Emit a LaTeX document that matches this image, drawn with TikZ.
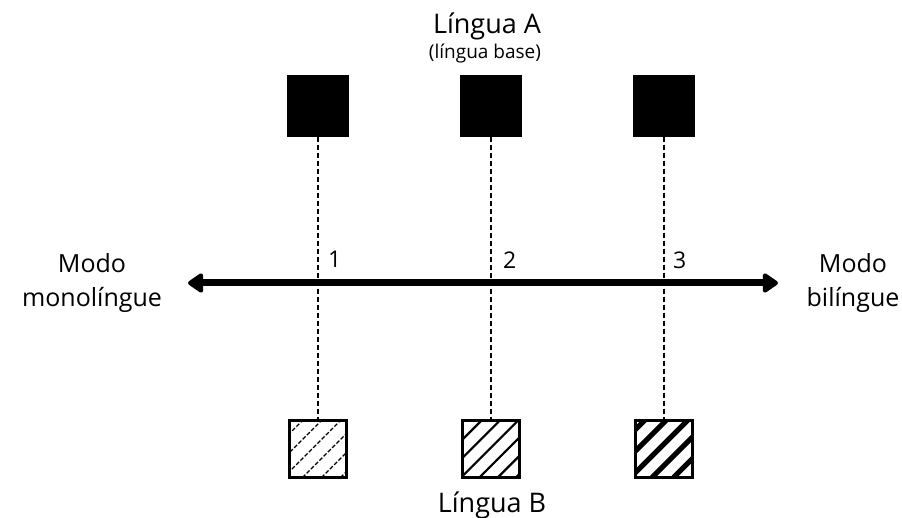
\documentclass[tikz,border=0pt]{standalone}
\usepackage{fontspec}
\setmainfont{Open Sans}
\usetikzlibrary{positioning, arrows.meta}
\tikzstyle{lingA} = [draw, fill=black, minimum size=61pt, inner sep=0pt]
\tikzstyle{guide} = [line width=2.2pt, dash pattern=on 5pt off 3pt]
\tikzstyle{num} = [inner sep=0pt, font=\fontsize{23}{27}\selectfont]
\tikzset{
  % #1 = line style, #2 = first offset, #3 = spacing
  lingB/.style n args={3}{draw, line width=3pt, minimum size=57pt, inner sep=0pt,
    path picture={
      \foreach \n in {0,...,6}
        \draw[#1] ([xshift=#2pt+\n*#3pt]path picture bounding box.south west) -- ++(90pt,90pt);
    }}
}

\begin{document}
\begin{tikzpicture}[x=1pt, y=-1pt]
    \useasboundingbox (0,0) rectangle (902,518);

    % quadrados de cima
    \node [lingA] (top1) at (318,106) {};
    \node [lingA] (top2) at (491,106) {};
    \node [lingA] (top3) at (664,106) {};

    % quadrados de baixo
    \node [lingB={line width=1.4pt, dash pattern=on 4pt off 2pt}{-44}{19}] (bot1) at (318,449) {};
    \node [lingB={line width=2.2pt}{-38}{18.3}] (bot2) at (491,449) {};
    \node [lingB={line width=5pt}{-48}{21.5}] (bot3) at (664,449) {};

    \draw [guide] (top1) -- (bot1);
    \draw [guide] (top2) -- (bot2);
    \draw [guide] (top3) -- (bot3);

    % eixo
    \coordinate (left) at (188,283);
    \coordinate (right) at (778,283);
    \draw [line width=7pt, {Triangle[length=17pt,width=22pt,round]}-{Triangle[length=17pt,width=22pt,round]}] (left) -- (right);

    \coordinate (x1) at (top1 |- left);
    \coordinate (x2) at (top2 |- left);
    \coordinate (x3) at (top3 |- left);
    \node [num, above right=15pt and 10pt of x1] (n1) {1};
    \node [num, above right=14pt and 12pt of x2] (n2) {2};
    \node [num, above right=14pt and 9pt of x3] (n3) {3};

    % textos
    \node [align=center, font=\fontsize{25}{34}\selectfont] (mono) at (92,283) {Modo\\monolíngue};
    \node [align=center, font=\fontsize{25}{34}\selectfont] (bili) at (853,283) {Modo\\bilíngue};
    \node [anchor=base, font=\fontsize{27}{32}\selectfont] (linA) at (487,34) {Língua A};
    \node [anchor=base, font=\fontsize{19}{22}\selectfont] (base) at (485,59) {(língua base)};
    \node [anchor=base, font=\fontsize{27}{32}\selectfont] (linB) at (492,512) {Língua B};
\end{tikzpicture}
\end{document}
